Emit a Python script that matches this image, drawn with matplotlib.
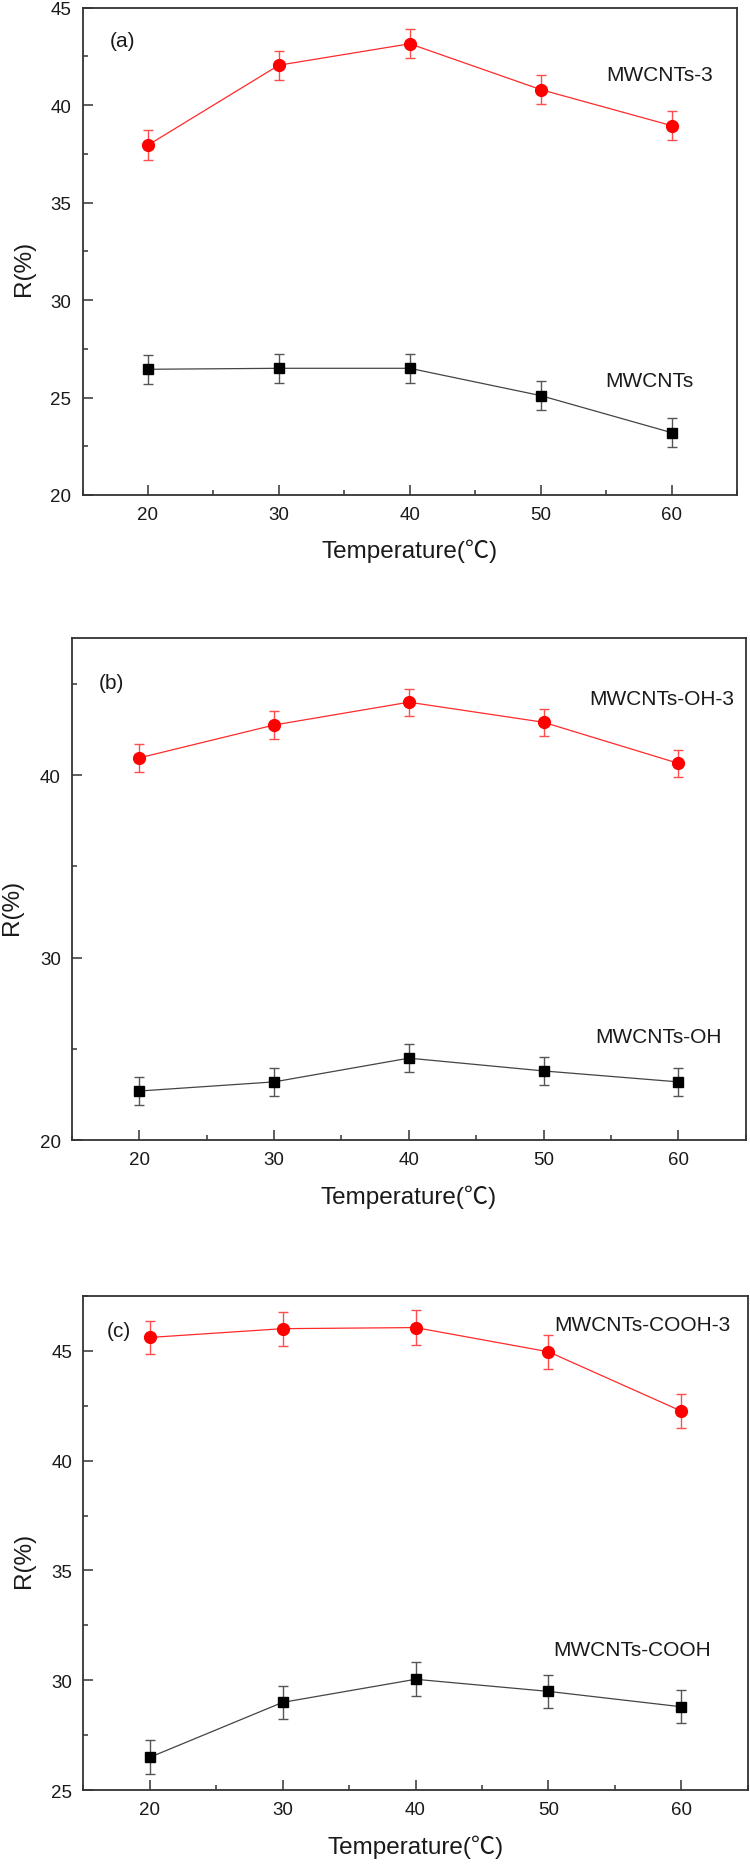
import matplotlib
matplotlib.use('Agg')
import matplotlib.pyplot as plt
from matplotlib.ticker import MultipleLocator

plt.rcParams['font.family'] = ['Liberation Sans', 'Noto Sans CJK SC', 'DejaVu Sans']

# Data
temps = [20, 30, 40, 50, 60]

# (a)
a_mod = [37.95, 42.05, 43.15, 40.8, 38.95]
a_mod_err = [0.78, 0.75, 0.75, 0.75, 0.73]
a_raw = [26.45, 26.5, 26.5, 25.1, 23.2]
a_raw_err = [0.75, 0.75, 0.75, 0.75, 0.73]

# (b)
b_mod = [40.95, 42.75, 44.0, 42.9, 40.65]
b_mod_err = [0.75, 0.75, 0.75, 0.75, 0.75]
b_raw = [22.7, 23.2, 24.5, 23.8, 23.2]
b_raw_err = [0.75, 0.75, 0.75, 0.75, 0.75]

# (c)
c_mod = [45.6, 46.0, 46.05, 44.95, 42.25]
c_mod_err = [0.75, 0.78, 0.78, 0.78, 0.78]
c_raw = [26.5, 29.0, 30.05, 29.5, 28.8]
c_raw_err = [0.78, 0.75, 0.78, 0.75, 0.75]

panel_tags = ['(a)', '(b)', '(c)']
mod_names = ['MWCNTs-3', 'MWCNTs-OH-3', 'MWCNTs-COOH-3']
raw_names = ['MWCNTs', 'MWCNTs-OH', 'MWCNTs-COOH']
ylims = [(20, 45), (20, 47.5), (25, 47.5)]
y_major = [5, 10, 5]

# text anchors (data coords)
tag_pos = [(17.05, 43.3), (17.0, 45.1), (16.75, 45.9)]
mod_label_pos = [(55.0, 41.55), (53.4, 44.2), (50.45, 46.2)]
raw_label_pos = [(54.9, 25.85), (53.8, 25.7), (50.4, 31.4)]

W, H = 750, 1865
fig = plt.figure(figsize=(W / 100, H / 100), dpi=100)

# axes boxes in pixels: left, top, right, bottom
boxes = [(82.5, 8.7, 737, 496), (72, 639.3, 745.7, 1141.3), (83.3, 1296.7, 747.7, 1791.3)]

series = [(a_mod, a_mod_err, a_raw, a_raw_err),
          (b_mod, b_mod_err, b_raw, b_raw_err),
          (c_mod, c_mod_err, c_raw, c_raw_err)]

spine_col = '#333333'

for i, (l, t, r, b) in enumerate(boxes):
    ax = fig.add_axes([l / W, 1 - b / H, (r - l) / W, (b - t) / H])
    mod, mod_err, raw, raw_err = series[i]

    ax.errorbar(temps, mod, yerr=mod_err, fmt='-o', color='#ff2a2a', lw=0.9,
                ms=8.5, mfc='#ff0000', mec='#ff0000', ecolor='#ff4d4d',
                elinewidth=1.0, capsize=3.4, capthick=1.0)
    ax.errorbar(temps, raw, yerr=raw_err, fmt='-s', color='#444444', lw=0.9,
                ms=6.8, mfc='#000000', mec='#000000', ecolor='#555555',
                elinewidth=1.0, capsize=3.4, capthick=1.0)

    ax.set_xlim(15, 65)
    ax.set_ylim(*ylims[i])
    ax.xaxis.set_major_locator(MultipleLocator(10))
    ax.xaxis.set_minor_locator(MultipleLocator(5))
    ax.yaxis.set_major_locator(MultipleLocator(y_major[i]))
    ax.yaxis.set_minor_locator(MultipleLocator(y_major[i] / 2))

    ax.tick_params(which='both', direction='in', top=False, right=False,
                   color=spine_col, width=1.1)
    ax.tick_params(which='major', length=7, pad=8, labelsize=13.5, labelcolor='#1a1a1a')
    ax.tick_params(which='minor', length=3.5)
    for s in ax.spines.values():
        s.set_color(spine_col)
        s.set_linewidth(1.3)

    ax.set_xlabel('Temperature(℃)', fontsize=17.5, color='#1a1a1a')
    ax.set_ylabel('R(%)', fontsize=17.5, color='#1a1a1a')
    h_px = b - t
    ax.xaxis.set_label_coords(0.5, -44 / h_px)
    ax.yaxis.set_label_coords(-0.073, 0.466)

    ax.text(*tag_pos[i], panel_tags[i], fontsize=15, ha='left', va='center', color='#1a1a1a')
    ax.text(*mod_label_pos[i], mod_names[i], fontsize=15, ha='left', va='center', color='#1a1a1a')
    ax.text(*raw_label_pos[i], raw_names[i], fontsize=15, ha='left', va='center', color='#1a1a1a')

fig.savefig('out.png', dpi=100)
